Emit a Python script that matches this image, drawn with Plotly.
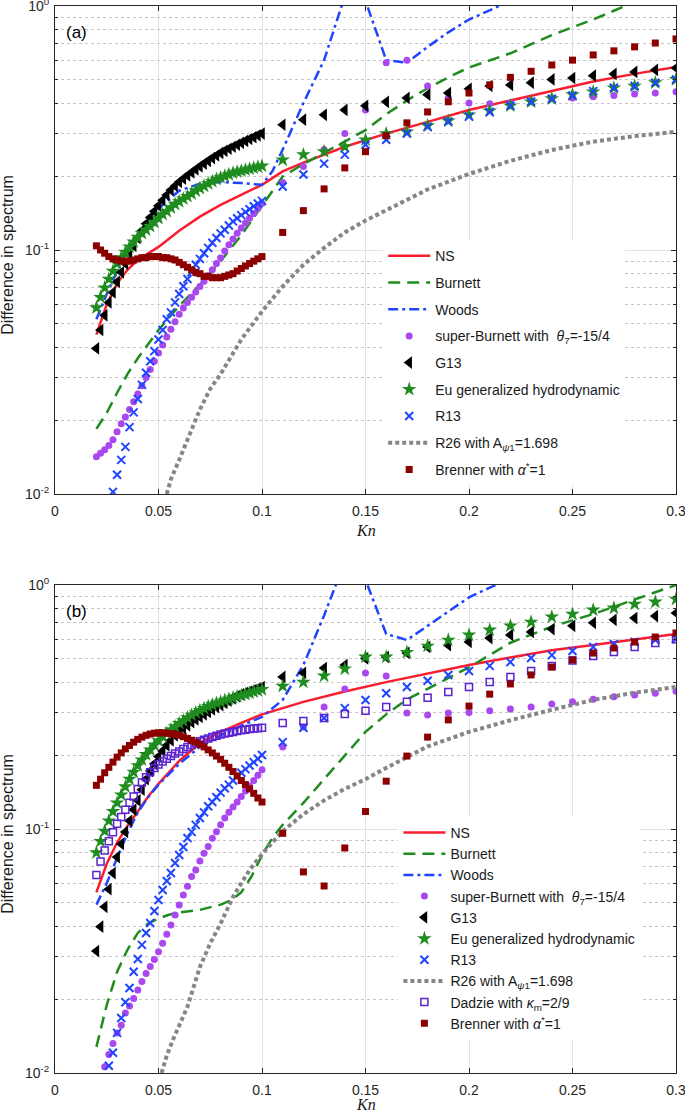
import plotly.graph_objects as go
from plotly.subplots import make_subplots

# Knudsen numbers: densely sampled part and coarse part
KN_DENSE = [0.020, 0.022, 0.024, 0.026, 0.028, 0.030, 0.032, 0.034, 0.036, 0.038,
            0.040, 0.042, 0.044, 0.046, 0.048, 0.050, 0.052, 0.054, 0.056, 0.058,
            0.060, 0.062, 0.064, 0.066, 0.068, 0.070, 0.072, 0.074, 0.076, 0.078,
            0.080, 0.082, 0.084, 0.086, 0.088, 0.090, 0.092, 0.094, 0.096, 0.098, 0.100]
KN_SPARSE = [0.11, 0.12, 0.13, 0.14, 0.15, 0.16, 0.17, 0.18, 0.19, 0.20,
             0.21, 0.22, 0.23, 0.24, 0.25, 0.26, 0.27, 0.28, 0.29, 0.30]

# ---- panel (a) ----
A_NS_KN = [0.02, 0.025, 0.03, 0.035, 0.04, 0.05, 0.06, 0.07, 0.08, 0.09, 0.10,
           0.11, 0.12, 0.14, 0.16, 0.18, 0.20, 0.22, 0.24, 0.26, 0.28, 0.30]
A_NS = [0.045, 0.060, 0.073, 0.083, 0.091, 0.103, 0.120, 0.137, 0.153, 0.168, 0.185,
        0.210, 0.228, 0.265, 0.300, 0.335, 0.375, 0.410, 0.448, 0.490, 0.527, 0.563]

A_BURNETT_KN = [0.02, 0.025, 0.03, 0.035, 0.04, 0.05, 0.06, 0.07, 0.08, 0.09, 0.10, 0.11, 0.12,
                0.13, 0.14, 0.15, 0.16, 0.17, 0.18, 0.19, 0.20, 0.22, 0.24, 0.26, 0.28, 0.30]
A_BURNETT = [0.0185, 0.0215, 0.026, 0.031, 0.036, 0.047, 0.059, 0.072, 0.090, 0.115, 0.152, 0.200, 0.225,
             0.250, 0.280, 0.310, 0.360, 0.410, 0.460, 0.510, 0.560, 0.640, 0.760, 0.880, 1.04, 1.20]

A_WOODS_KN = [0.02, 0.025, 0.03, 0.035, 0.04, 0.045, 0.05, 0.06, 0.07, 0.08, 0.09, 0.10, 0.105, 0.11,
              0.12, 0.13, 0.14, 0.145, 0.15, 0.16, 0.17, 0.18, 0.19, 0.20, 0.21, 0.22, 0.25, 0.30]
A_WOODS = [0.052, 0.066, 0.082, 0.099, 0.116, 0.133, 0.148, 0.175, 0.187, 0.190, 0.188, 0.185, 0.210, 0.258,
           0.400, 0.600, 1.10, 3.00, 1.05, 0.600, 0.585, 0.680, 0.780, 0.880, 0.960, 1.05, 1.30, 1.80]

A_R26_KN = [0.054, 0.056, 0.06, 0.065, 0.07, 0.075, 0.08, 0.09, 0.10, 0.11, 0.12,
            0.13, 0.14, 0.15, 0.16, 0.18, 0.20, 0.22, 0.24, 0.26, 0.28, 0.30]
A_R26 = [0.0100, 0.0115, 0.0138, 0.0175, 0.0222, 0.0270, 0.0310, 0.0430, 0.0560, 0.0710, 0.0870,
         0.102, 0.118, 0.132, 0.146, 0.177, 0.205, 0.232, 0.257, 0.278, 0.293, 0.305]

A_SB = [0.0142, 0.0147, 0.0152, 0.0158, 0.0167, 0.0180, 0.0194, 0.0207, 0.0222, 0.0239,
        0.0257, 0.0278, 0.0300, 0.0324, 0.0350, 0.0378, 0.0408, 0.0440, 0.0473, 0.0508,
        0.0545, 0.0579, 0.0609, 0.0640, 0.0673, 0.0708, 0.0745, 0.0784, 0.0830, 0.0880,
        0.0930, 0.0990, 0.105, 0.111, 0.117, 0.123, 0.129, 0.135, 0.141, 0.148, 0.155,
        0.189, 0.220, 0.258, 0.300, 0.375, 0.585, 0.600, 0.470, 0.420, 0.400,
        0.398, 0.400, 0.410, 0.420, 0.420, 0.425, 0.430, 0.436, 0.440, 0.445]

A_G13 = [0.0395, 0.047, 0.054, 0.061, 0.067, 0.074, 0.081, 0.088, 0.096, 0.104,
         0.112, 0.120, 0.128, 0.136, 0.144, 0.152, 0.160, 0.168, 0.176, 0.183,
         0.190, 0.196, 0.202, 0.208, 0.214, 0.220, 0.226, 0.232, 0.238, 0.244,
         0.250, 0.255, 0.260, 0.265, 0.270, 0.275, 0.280, 0.285, 0.290, 0.295, 0.300,
         0.326, 0.342, 0.358, 0.375, 0.390, 0.405, 0.420, 0.433, 0.440, 0.458,
         0.470, 0.475, 0.485, 0.500, 0.507, 0.518, 0.527, 0.537, 0.547, 0.557]

A_EU = [0.058, 0.064, 0.070, 0.076, 0.082, 0.088, 0.093, 0.098, 0.103, 0.108,
        0.113, 0.117, 0.121, 0.125, 0.130, 0.135, 0.140, 0.144, 0.149, 0.154,
        0.158, 0.162, 0.166, 0.170, 0.175, 0.179, 0.183, 0.187, 0.191, 0.195,
        0.198, 0.201, 0.204, 0.207, 0.209, 0.211, 0.213, 0.215, 0.217, 0.219, 0.221,
        0.234, 0.246, 0.253, 0.265, 0.283, 0.300, 0.305, 0.323, 0.338, 0.358,
        0.372, 0.390, 0.405, 0.417, 0.433, 0.445, 0.462, 0.470, 0.485, 0.500]

A_R13 = [None, None, None, None, 0.0102, 0.0120, 0.0138, 0.0156, 0.0188, 0.0216,
         0.0245, 0.0280, 0.0314, 0.0350, 0.0385, 0.0430, 0.0470, 0.0520, 0.0555, 0.0610,
         0.0660, 0.0710, 0.0760, 0.0810, 0.0870, 0.0920, 0.0970, 0.102, 0.107, 0.112,
         0.117, 0.121, 0.126, 0.131, 0.135, 0.139, 0.143, 0.147, 0.151, 0.155, 0.159,
         0.182, 0.204, 0.226, 0.246, 0.270, 0.283, 0.300, 0.320, 0.336, 0.352,
         0.368, 0.390, 0.405, 0.417, 0.430, 0.448, 0.462, 0.470, 0.485, 0.500]

A_BRENNER = [0.104, 0.100, 0.097, 0.094, 0.092, 0.091, 0.090, 0.090, 0.090, 0.091,
             0.092, 0.093, 0.093, 0.094, 0.094, 0.094, 0.093, 0.093, 0.092, 0.091,
             0.089, 0.087, 0.085, 0.083, 0.081, 0.080, 0.078, 0.078, 0.077, 0.077,
             0.077, 0.078, 0.079, 0.080, 0.082, 0.084, 0.086, 0.088, 0.090, 0.092, 0.094,
             0.118, 0.145, 0.178, 0.217, 0.253, 0.294, 0.332, 0.368, 0.405, 0.440,
             0.475, 0.510, 0.540, 0.573, 0.600, 0.630, 0.655, 0.680, 0.705, 0.733]

# ---- panel (b) ----
B_NS_KN = [0.02, 0.025, 0.03, 0.035, 0.04, 0.045, 0.05, 0.06, 0.07, 0.08, 0.09, 0.10,
           0.12, 0.14, 0.16, 0.18, 0.20, 0.22, 0.24, 0.26, 0.28, 0.30]
B_NS = [0.055, 0.072, 0.088, 0.103, 0.118, 0.136, 0.153, 0.190, 0.225, 0.250, 0.272, 0.295,
        0.332, 0.366, 0.400, 0.435, 0.470, 0.505, 0.540, 0.568, 0.600, 0.630]

B_BURNETT_KN = [0.02, 0.0225, 0.025, 0.03, 0.035, 0.04, 0.045, 0.05, 0.055, 0.06, 0.07, 0.08, 0.085,
                0.09, 0.095, 0.10, 0.105, 0.11, 0.12, 0.13, 0.14, 0.15, 0.16, 0.17, 0.18, 0.20,
                0.22, 0.24, 0.26, 0.28, 0.30]
B_BURNETT = [0.0128, 0.0158, 0.019, 0.026, 0.032, 0.0375, 0.041, 0.043, 0.0445, 0.0455, 0.0466, 0.049, 0.051,
             0.055, 0.064, 0.078, 0.092, 0.104, 0.128, 0.160, 0.200, 0.250, 0.295, 0.340, 0.375, 0.460,
             0.580, 0.675, 0.760, 0.870, 1.00]

B_WOODS_KN = [0.02, 0.025, 0.03, 0.035, 0.04, 0.045, 0.05, 0.06, 0.07, 0.08, 0.09, 0.10, 0.11,
              0.12, 0.13, 0.14, 0.145, 0.15, 0.16, 0.17, 0.18, 0.19, 0.20, 0.21, 0.22, 0.25, 0.30]
B_WOODS = [0.049, 0.060, 0.076, 0.096, 0.117, 0.135, 0.152, 0.185, 0.217, 0.242, 0.265, 0.288, 0.338,
           0.470, 0.750, 1.25, 3.00, 1.05, 0.630, 0.595, 0.680, 0.780, 0.890, 0.975, 1.06, 1.30, 1.80]

B_R26_KN = [0.0515, 0.054, 0.057, 0.06, 0.064, 0.07, 0.075, 0.08, 0.086, 0.09, 0.094, 0.10, 0.11,
            0.12, 0.13, 0.14, 0.15, 0.16, 0.18, 0.20, 0.22, 0.24, 0.26, 0.28, 0.30]
B_R26 = [0.0100, 0.0118, 0.0137, 0.0158, 0.0187, 0.0272, 0.0340, 0.0410, 0.0527, 0.0600, 0.0679, 0.0790, 0.0980,
         0.115, 0.131, 0.146, 0.160, 0.178, 0.218, 0.250, 0.279, 0.308, 0.338, 0.362, 0.382]

B_SB = [None, None, 0.0106, 0.0119, 0.0132, 0.0146, 0.0157, 0.0176, 0.0188, 0.0202,
        0.0219, 0.0237, 0.0256, 0.0273, 0.0292, 0.0314, 0.0340, 0.0370, 0.0404, 0.0444,
        0.0488, 0.0537, 0.0583, 0.0638, 0.0679, 0.0740, 0.0795, 0.0847, 0.0916, 0.0975,
        0.104, 0.111, 0.117, 0.123, 0.129, 0.136, 0.143, 0.150, 0.158, 0.166, 0.175,
        0.217, 0.262, 0.316, 0.375, 0.436, 0.424, 0.299, 0.293, 0.299, 0.300,
        0.305, 0.310, 0.316, 0.325, 0.332, 0.340, 0.348, 0.354, 0.360, 0.367]

B_G13 = [0.0316, 0.0398, 0.048, 0.0567, 0.066, 0.0767, 0.0869, 0.0973, 0.108, 0.120,
         0.131, 0.145, 0.160, 0.173, 0.185, 0.198, 0.209, 0.220, 0.231, 0.242,
         0.252, 0.259, 0.266, 0.274, 0.281, 0.288, 0.295, 0.302, 0.309, 0.316,
         0.322, 0.329, 0.336, 0.343, 0.350, 0.356, 0.361, 0.366, 0.371, 0.376, 0.382,
         0.420, 0.436, 0.457, 0.470, 0.500, 0.507, 0.527, 0.557, 0.567, 0.584,
         0.606, 0.624, 0.642, 0.660, 0.680, 0.700, 0.720, 0.732, 0.746, 0.768]

B_EU = [0.080, 0.089, 0.098, 0.108, 0.118, 0.128, 0.138, 0.149, 0.160, 0.171,
        0.182, 0.192, 0.202, 0.211, 0.221, 0.230, 0.239, 0.247, 0.255, 0.263,
        0.271, 0.278, 0.286, 0.293, 0.300, 0.306, 0.312, 0.318, 0.323, 0.328,
        0.332, 0.337, 0.341, 0.345, 0.349, 0.353, 0.357, 0.361, 0.365, 0.369, 0.373,
        0.385, 0.400, 0.424, 0.453, 0.507, 0.507, 0.530, 0.562, 0.595, 0.624,
        0.654, 0.680, 0.705, 0.740, 0.760, 0.790, 0.805, 0.835, 0.852, 0.875]

B_R13 = [None, None, None, 0.0107, 0.0121, 0.0146, 0.0168, 0.0195, 0.0223, 0.0260,
         0.0293, 0.0335, 0.0375, 0.0412, 0.0461, 0.0512, 0.0562, 0.0612, 0.0660, 0.0726,
         0.0782, 0.0844, 0.0918, 0.0973, 0.104, 0.111, 0.117, 0.124, 0.129, 0.135,
         0.141, 0.147, 0.152, 0.158, 0.164, 0.170, 0.176, 0.182, 0.188, 0.194, 0.201,
         0.227, 0.260, 0.285, 0.313, 0.338, 0.360, 0.382, 0.405, 0.428, 0.444,
         0.466, 0.483, 0.502, 0.516, 0.536, 0.557, 0.573, 0.584, 0.595, 0.600]

B_DADZIE = [0.0648, 0.0736, 0.0817, 0.089, 0.097, 0.105, 0.112, 0.120, 0.128, 0.136,
            0.146, 0.155, 0.163, 0.171, 0.178, 0.184, 0.189, 0.194, 0.199, 0.204,
            0.208, 0.213, 0.217, 0.221, 0.225, 0.229, 0.232, 0.235, 0.238, 0.241,
            0.244, 0.246, 0.248, 0.250, 0.252, 0.254, 0.255, 0.257, 0.258, 0.259, 0.260,
            0.272, 0.277, 0.285, 0.296, 0.305, 0.316, 0.332, 0.345, 0.364, 0.382,
            0.400, 0.420, 0.444, 0.466, 0.490, 0.512, 0.532, 0.557, 0.578, 0.600]

B_BRENNER = [0.151, 0.160, 0.170, 0.179, 0.188, 0.197, 0.205, 0.213, 0.220, 0.227,
             0.233, 0.238, 0.242, 0.245, 0.247, 0.248, 0.248, 0.247, 0.246, 0.244,
             0.242, 0.239, 0.235, 0.231, 0.227, 0.222, 0.217, 0.211, 0.205, 0.199,
             0.193, 0.186, 0.179, 0.172, 0.165, 0.158, 0.152, 0.146, 0.140, 0.134, 0.129,
             0.096, 0.0667, 0.0584, 0.0836, 0.118, 0.157, 0.199, 0.238, 0.280, 0.319,
             0.357, 0.393, 0.428, 0.461, 0.493, 0.526, 0.552, 0.584, 0.612, 0.636]

X_TICKS = [0, 0.05, 0.1, 0.15, 0.2, 0.25, 0.3]
X_LABELS = ['0', '0.05', '0.1', '0.15', '0.2', '0.25', '0.3']
Y_TICKS = [0.01, 0.1, 1]
Y_LABELS = ['10<sup>-2</sup>', '10<sup>-1</sup>', '10<sup>0</sup>']
Y_MINOR = [0.02, 0.03, 0.04, 0.05, 0.06, 0.07, 0.08, 0.09,
           0.2, 0.3, 0.4, 0.5, 0.6, 0.7, 0.8, 0.9]

KN_ALL = KN_DENSE + KN_SPARSE

RED = '#F81E30'
GREEN = '#1E8C1E'
BLUE = '#1F45FF'
PURPLE = '#AA48F0'
GRAY = '#868686'
DARKRED = '#8C0000'
INDIGO = '#5A22D0'

NAMES = {
    'ns': 'NS',
    'burnett': 'Burnett',
    'woods': 'Woods',
    'sb': 'super-Burnett with  <i>θ</i><sub>7</sub>=-15/4',
    'g13': 'G13',
    'eu': 'Eu generalized hydrodynamic',
    'r13': 'R13',
    'r26': 'R26 with A<sub><i>ψ</i>1</sub>=1.698',
    'dadzie': 'Dadzie with <i>κ</i><sub>m</sub>=2/9',
    'brenner': 'Brenner with <i>α</i><sup>*</sup>=1',
}

fig = make_subplots(rows=2, cols=1)


def line(row, key, x, y, color, width, dash):
    leg = 'legend' if row == 1 else 'legend2'
    fig.add_trace(go.Scatter(x=x, y=y, mode='lines', name=NAMES[key],
                             legend=leg, legendgroup=f'{key}{row}',
                             line=dict(color=color, width=width, dash=dash)),
                  row=row, col=1)


def points(row, key, y, symbol, color, size, lw=0):
    leg = 'legend' if row == 1 else 'legend2'
    fig.add_trace(go.Scatter(x=KN_ALL, y=y, mode='markers', name=NAMES[key],
                             legend=leg, legendgroup=f'{key}{row}',
                             marker=dict(symbol=symbol, color=color, size=size,
                                         line=dict(color=color, width=lw))),
                  row=row, col=1)


for row, d in [(1, dict(ns=(A_NS_KN, A_NS), bu=(A_BURNETT_KN, A_BURNETT), wo=(A_WOODS_KN, A_WOODS),
                        sb=A_SB, g13=A_G13, eu=A_EU, r13=A_R13, r26=(A_R26_KN, A_R26),
                        da=None, br=A_BRENNER)),
               (2, dict(ns=(B_NS_KN, B_NS), bu=(B_BURNETT_KN, B_BURNETT), wo=(B_WOODS_KN, B_WOODS),
                        sb=B_SB, g13=B_G13, eu=B_EU, r13=B_R13, r26=(B_R26_KN, B_R26),
                        da=B_DADZIE, br=B_BRENNER))]:
    line(row, 'ns', *d['ns'], RED, 2.5, 'solid')
    line(row, 'burnett', *d['bu'], GREEN, 2.5, '12px,7px')
    line(row, 'woods', *d['wo'], BLUE, 2.5, '10px,4px,3px,4px')
    points(row, 'sb', d['sb'], 'circle', PURPLE, 7)
    points(row, 'g13', d['g13'], 'triangle-left', 'black', 11)
    points(row, 'eu', d['eu'], 'star', GREEN, 11)
    points(row, 'r13', d['r13'], 'x-thin', BLUE, 8, 2)
    line(row, 'r26', *d['r26'], GRAY, 4, '4px,3px')
    if d['da'] is not None:
        points(row, 'dadzie', d['da'], 'square-open', INDIGO, 7, 1.5)
    points(row, 'brenner', d['br'], 'square', DARKRED, 7)

SANS = 'Liberation Sans, Arial, sans-serif'
axis_font = dict(family=SANS, size=14, color='#262626')
common = dict(showline=True, linecolor='#262626', linewidth=1, mirror='ticks',
              ticks='inside', ticklen=5, tickcolor='#262626', tickfont=axis_font,
              showgrid=True, gridcolor='#e2e2e2', gridwidth=1, zeroline=False,
              automargin=False, ticklabeloverflow='allow')

fig.update_xaxes(range=[0, 0.3], tickmode='array', tickvals=X_TICKS, ticktext=X_LABELS,
                 ticklabelstandoff=4, **common)
fig.update_yaxes(type='log', range=[-2, 0], tickmode='array', tickvals=Y_TICKS, ticktext=Y_LABELS,
                 ticklabelstandoff=2,
                 minor=dict(tickmode='array', tickvals=Y_MINOR, ticks='inside', ticklen=3,
                            tickcolor='#262626', showgrid=True, gridcolor='#c6c6c6',
                            griddash='dot', gridwidth=1),
                 **common)
fig.update_layout(yaxis=dict(domain=[579 / 1067, 1]), yaxis2=dict(domain=[0, 488 / 1067]))

leg_font = dict(family=SANS, size=14, color='#1a1a1a')
fig.update_layout(
    template='none',
    width=685, height=1113,
    margin=dict(l=55, r=9, t=6, b=40),
    paper_bgcolor='white', plot_bgcolor='white',
    legend=dict(x=0.5285, y=0.7805, xanchor='left', yanchor='top', bgcolor='white',
                font=leg_font, tracegroupgap=5.5, itemwidth=42, borderwidth=0),
    legend2=dict(x=0.553, y=0.240, xanchor='left', yanchor='top', bgcolor='white',
                 font=leg_font, tracegroupgap=0, itemwidth=42, borderwidth=0),
)

lab_font = dict(family=SANS, size=16, color='#1a1a1a')
kn_font = dict(family='Liberation Serif, Times New Roman, serif', size=16, color='#1a1a1a')
for yd, tag, kn_y in [('y domain', '(a)', -0.074), ('y2 domain', '(b)', -0.064)]:
    xr = 'x' if yd == 'y domain' else 'x2'
    fig.add_annotation(text='Difference in spectrum', textangle=-90, xref='paper', x=-0.0757,
                       xanchor='center', yref=yd, y=0.49, yanchor='middle',
                       showarrow=False, font=lab_font)
    fig.add_annotation(text='<i>Kn</i>', xref=xr, x=0.15, xanchor='center',
                       yref=yd, y=kn_y, yanchor='middle', showarrow=False, font=kn_font)
    fig.add_annotation(text=tag, xref=xr + ' domain', x=0.014, yref=yd, y=0.945,
                       xanchor='left', yanchor='middle', showarrow=False,
                       font=dict(family=SANS, size=17, color='black'))

# page body has a default margin; drop it so the figure sits at the window origin
fig.write_html("out.html", config={'displayModeBar': False},
               post_script="document.body.style.margin='0';")
